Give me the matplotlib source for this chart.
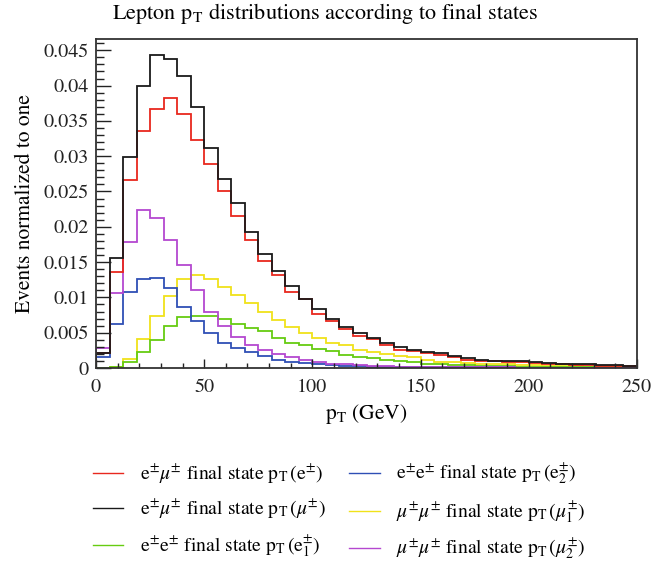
import numpy as np
import matplotlib
matplotlib.use("Agg")
import matplotlib.pyplot as plt
from matplotlib.ticker import MultipleLocator, FuncFormatter
from matplotlib.lines import Line2D

# ---- data (normalized pT distributions, 40 bins of 6.25 GeV, 0-250 GeV) ----
edges = np.linspace(0, 250, 41)

emu_e = [0.0021, 0.0136, 0.0266, 0.0335, 0.0367, 0.0382, 0.0360, 0.0323, 0.0289, 0.0250,
         0.0215, 0.0182, 0.0151, 0.0132, 0.0108, 0.0098, 0.0077, 0.0066, 0.0055, 0.0045,
         0.0041, 0.0033, 0.0026, 0.0024, 0.0021, 0.0018, 0.0015, 0.0012, 0.0010, 0.0010,
         0.0008, 0.0008, 0.0007, 0.0006, 0.0005, 0.0004, 0.0004, 0.0003, 0.0003, 0.0003]
emu_mu = [0.0021, 0.0156, 0.0299, 0.0400, 0.0444, 0.0438, 0.0414, 0.0370, 0.0312, 0.0267,
          0.0234, 0.0193, 0.0162, 0.0137, 0.0116, 0.0098, 0.0083, 0.0069, 0.0058, 0.0049,
          0.0042, 0.0035, 0.0030, 0.0025, 0.0023, 0.0021, 0.0017, 0.0014, 0.0012, 0.0010,
          0.0010, 0.0010, 0.0008, 0.0007, 0.0006, 0.0005, 0.0005, 0.0004, 0.0004, 0.0003]
ee_e1 = [0.0000, 0.0002, 0.0008, 0.0022, 0.0039, 0.0059, 0.0072, 0.0074, 0.0074, 0.0070,
         0.0063, 0.0056, 0.0052, 0.0043, 0.0036, 0.0033, 0.0027, 0.0024, 0.0019, 0.0016,
         0.0014, 0.0012, 0.0010, 0.0008, 0.0006, 0.0005, 0.0004, 0.0004, 0.0003, 0.0003,
         0.0003, 0.0002, 0.0002, 0.0002, 0.0002, 0.0001, 0.0001, 0.0001, 0.0001, 0.0001]
ee_e2 = [0.0015, 0.0062, 0.0108, 0.0126, 0.0127, 0.0113, 0.0087, 0.0066, 0.0049, 0.0036,
         0.0028, 0.0022, 0.0017, 0.0011, 0.0009, 0.0007, 0.0005, 0.0004, 0.0003, 0.0003,
         0.0002, 0.0002, 0.0001, 0.0001, 0.0001, 0.0001, 0.0001, 0.0001, 0.0001, 0.0001,
         0.0001, 0.0000, 0.0000, 0.0000, 0.0000, 0.0000, 0.0000, 0.0000, 0.0000, 0.0000]
mumu_mu1 = [0.0000, 0.0002, 0.0013, 0.0041, 0.0074, 0.0102, 0.0126, 0.0132, 0.0126, 0.0115,
            0.0104, 0.0092, 0.0080, 0.0068, 0.0058, 0.0050, 0.0043, 0.0036, 0.0032, 0.0025,
            0.0023, 0.0020, 0.0017, 0.0015, 0.0011, 0.0009, 0.0008, 0.0007, 0.0006, 0.0005,
            0.0005, 0.0004, 0.0004, 0.0003, 0.0003, 0.0003, 0.0002, 0.0002, 0.0002, 0.0002]
mumu_mu2 = [0.0028, 0.0106, 0.0178, 0.0224, 0.0213, 0.0182, 0.0146, 0.0111, 0.0079, 0.0060,
            0.0044, 0.0033, 0.0025, 0.0020, 0.0015, 0.0011, 0.0008, 0.0006, 0.0005, 0.0004,
            0.0003, 0.0003, 0.0002, 0.0002, 0.0001, 0.0001, 0.0001, 0.0001, 0.0001, 0.0001,
            0.0001, 0.0000, 0.0000, 0.0000, 0.0000, 0.0000, 0.0000, 0.0000, 0.0000, 0.0000]

labels = [
    r'$\mathrm{e}^{\pm}\mu^{\pm}$ final state $\mathrm{p_T}\,(\mathrm{e}^{\pm})$',
    r'$\mathrm{e}^{\pm}\mu^{\pm}$ final state $\mathrm{p_T}\,(\mu^{\pm})$',
    r'$\mathrm{e}^{\pm}\mathrm{e}^{\pm}$ final state $\mathrm{p_T}\,(\mathrm{e}_1^{\pm})$',
    r'$\mathrm{e}^{\pm}\mathrm{e}^{\pm}$ final state $\mathrm{p_T}\,(\mathrm{e}_2^{\pm})$',
    r'$\mu^{\pm}\mu^{\pm}$ final state $\mathrm{p_T}\,(\mu_1^{\pm})$',
    r'$\mu^{\pm}\mu^{\pm}$ final state $\mathrm{p_T}\,(\mu_2^{\pm})$',
]
series = [emu_e, emu_mu, ee_e1, ee_e2, mumu_mu1, mumu_mu2]
colors = ['#e8281e', '#1a1a1a', '#66cc11', '#2f4fb5', '#f0e21a', '#b448d0']

plt.rcParams['font.family'] = ['STIXGeneral', 'DejaVu Serif']
plt.rcParams['mathtext.fontset'] = 'stix'

fig = plt.figure(figsize=(6.51, 5.62), dpi=100)
ax = fig.add_axes([96/651, 1-368/562, (637-96)/651, (368-39)/562])

# draw order: lighter first so red/black on top
order = [4, 2, 3, 5, 0, 1]
for i in order:
    ax.stairs(series[i], edges, baseline=0, color=colors[i], linewidth=1.3)

ax.set_xlim(0, 250)
ax.set_ylim(0, 0.0466)
ax.xaxis.set_major_locator(MultipleLocator(50))
ax.xaxis.set_minor_locator(MultipleLocator(10))
ax.yaxis.set_major_locator(MultipleLocator(0.005))
ax.yaxis.set_minor_locator(MultipleLocator(0.001))
ax.yaxis.set_major_formatter(FuncFormatter(lambda v, p: '0' if abs(v) < 1e-9 else ('%g' % round(v, 4))))
ax.tick_params(axis='both', which='both', direction='in', top=False, right=False,
               labelsize=14.5, colors='#222222', width=1.0)
ax.tick_params(axis='y', which='major', length=11, pad=5)
ax.tick_params(axis='y', which='minor', length=5.5)
ax.tick_params(axis='x', which='major', length=6.5, pad=8)
ax.tick_params(axis='x', which='minor', length=3.5)
for s in ax.spines.values():
    s.set_linewidth(1.3)
    s.set_color('#333333')

ax.set_xlabel(r'$\mathrm{p_T}$ (GeV)', fontsize=15.5, labelpad=4)
ax.set_ylabel('Events normalized to one', fontsize=15.5, labelpad=6)
fig.text(0.5, 1-13/562, r'Lepton $\mathrm{p_T}$ distributions according to final states',
         ha='center', va='center', fontsize=16)

proxies = [Line2D([], [], color=colors[i], linewidth=1.0) for i in range(6)]
fig.legend(proxies, labels, ncol=2, loc='upper left', bbox_to_anchor=(93/651, 1-462/562),
           frameon=False, fontsize=14.1, handlelength=1.55, handletextpad=0.85,
           columnspacing=1.2, labelspacing=0.62, borderpad=0, borderaxespad=0)

fig.savefig('out.png', dpi=100)
